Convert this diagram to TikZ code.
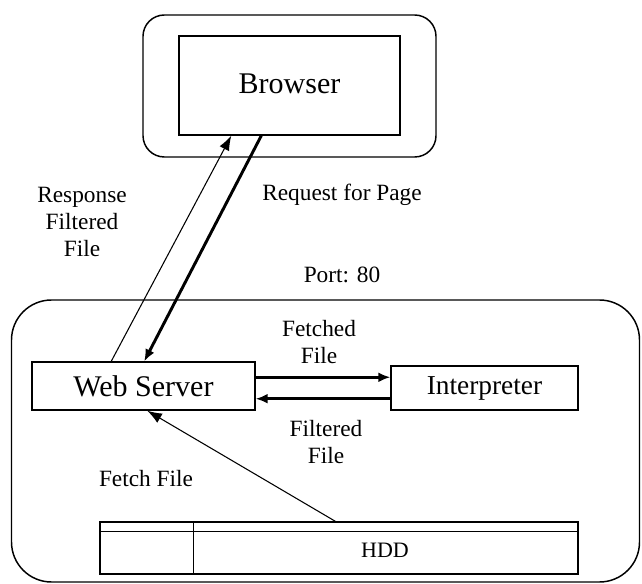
\documentclass[tikz,border=0pt]{standalone}
\usepackage{fontspec}
\setmainfont{Liberation Serif}
\usetikzlibrary{arrows.meta,calc}
\begin{document}
\begin{tikzpicture}[x=0.75pt,y=-0.75pt,
  box/.style={draw,line width=1.1pt,inner sep=0pt},
  bigtxt/.style={font=\fontsize{22.5}{25}\selectfont},
  smalltxt/.style={font=\fontsize{17.5}{20.5}\selectfont,align=center,inner sep=0pt},
  thickarr/.style={line width=2.2pt,-{Latex[length=9pt,width=7.5pt]}},
  thinarr/.style={line width=0.8pt,-{Latex[length=11pt,width=8pt]}}]
\useasboundingbox (0,0) rectangle (642,584);
% containers
\node[box,rounded corners=16pt,minimum width=219.75pt,minimum height=106.5pt] (bout) at (289.5,86) {};
\node[box,rounded corners=30pt,minimum width=471pt,minimum height=211.5pt] (sout) at (325.5,441) {};
% main boxes
\node[box,bigtxt,minimum width=165.75pt,minimum height=74.25pt] (br) at (289.5,85.5) {\raisebox{3pt}{Browser}};
\node[box,bigtxt,minimum width=167.25pt,minimum height=36pt] (ws) at (143.5,386) {Web Server};
\node[box,minimum width=140.25pt,minimum height=33pt,font=\fontsize{20.5}{24}\selectfont] (ip) at (484.5,388) {Interpreter};
\node[box,minimum width=358.5pt,minimum height=39pt] (hdd) at (339,548) {};
\draw[line width=1.1pt] ([yshift=-7.5pt]hdd.north west) -- ([yshift=-7.5pt]hdd.north east);
\draw[line width=1.1pt] ([xshift=70.5pt]hdd.north west) coordinate (hv) -- ([xshift=70.5pt]hdd.south west);
\node[font=\fontsize{16.5}{19}\selectfont] (hddl) at (385,550) {HDD};
% connectors
\draw[thinarr] ([xshift=60pt]ws.north west) -- ([xshift=39.75pt]br.south west);
\draw[thickarr] ([xshift=62.25pt]br.south west) -- ([xshift=84.75pt]ws.north west);
\draw[thickarr] ([yshift=-12pt]ws.north east) -- ([yshift=-12pt]ws.north east -| ip.west);
\draw[thickarr] ([yshift=9pt]ws.south east -| ip.west) -- ([yshift=9pt]ws.south east);
\draw[thinarr] ([xshift=177pt]hdd.north west) -- ([xshift=87pt]ws.south west);
% labels
\node[smalltxt] (lresp) at (82,222) {Response\\Filtered\\File};
\node[smalltxt] (lreq) at (342,195) {Request for Page};
\node[smalltxt] (lport) at (342,275) {Port: 80};
\node[smalltxt] (lfetched) at (319,342) {Fetched\\File};
\node[smalltxt] (lfiltered) at (326,442) {Filtered\\File};
\node[smalltxt] (lfetch) at (146,479) {Fetch File};
\end{tikzpicture}
\end{document}
